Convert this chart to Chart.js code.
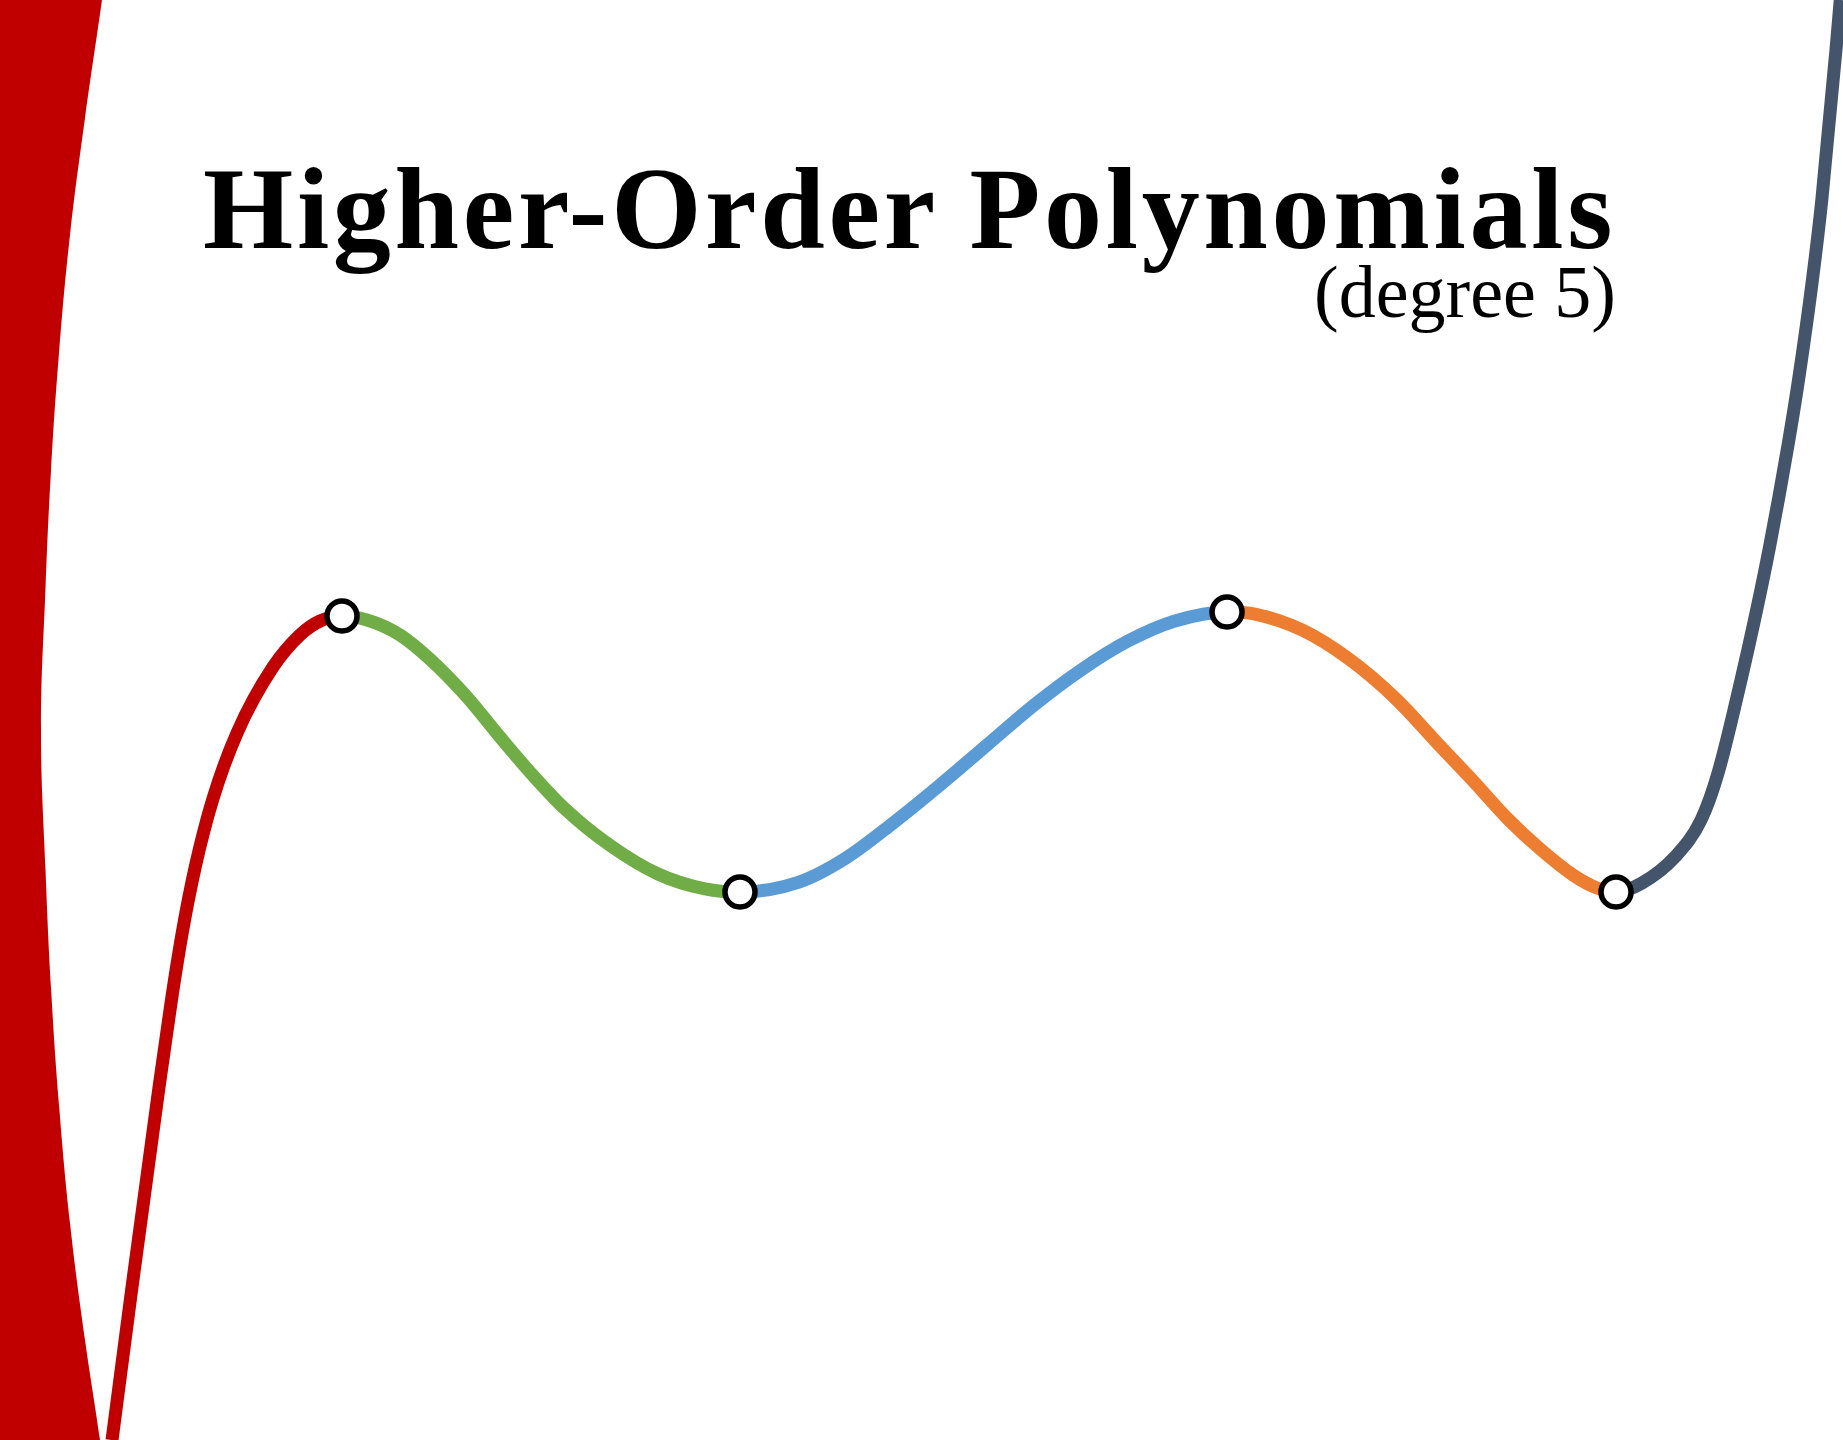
<!DOCTYPE html>
<html>
<head>
<meta charset="utf-8">
<title>Higher-Order Polynomials</title>
<script src="https://cdn.jsdelivr.net/npm/chart.js@4.4.1/dist/chart.umd.min.js"></script>
<style>
  html, body { margin: 0; padding: 0; background: #fff; }
  #wrap { position: relative; width: 1843px; height: 1440px; overflow: hidden; }
  #myChart { position: absolute; left: 0; top: 0; }
  #title {
    position: absolute; left: 203px; top: 151px;
    font: bold 116px "Liberation Serif", "Times New Roman", serif;
    letter-spacing: 3.7px; line-height: 1; white-space: nowrap; color: #000;
  }
  #subtitle {
    position: absolute; right: 227px; top: 255px;
    font: 74px "Liberation Serif", "Times New Roman", serif;
    line-height: 1; white-space: nowrap; color: #000;
  }
</style>
</head>
<body>
<div id="wrap">
  <canvas id="myChart" width="1843" height="1440"></canvas>
  <div id="title">Higher-Order Polynomials</div>
  <div id="subtitle">(degree 5)</div>
</div>
<script>
// curve samples, left to right
const curveX = [
  -1.0987, -1.0734, -1.0392, -1.0235, -1.0099, -0.9934, -0.9715, -0.9405, -0.8949, -0.8608, -0.8354, -0.8076,
  -0.7759, -0.7342, -0.6924, -0.6494, -0.6076, -0.5709, -0.5266, -0.4671, -0.4076, -0.3481, -0.3038,
  -0.2291, -0.1696, -0.1101, -0.0506, 0.0089, 0.0684, 0.1278, 0.1873, 0.2468, 0.3127,
  0.3481, 0.4076, 0.4671, 0.5266, 0.5823, 0.6241, 0.6671, 0.7089, 0.7506, 0.7810, 0.8051,
  0.8380, 0.8797, 0.9127, 0.9342, 0.9633, 0.9823, 0.9994, 1.0224, 1.0361, 1.0537, 1.0656, 1.0835, 1.0889,
];
const curveY = [
  -4.968, -3.863, -2.419, -1.791, -1.307, -0.830, -0.347, 0.137, 0.614, 0.845, 0.946, 0.982,
  0.953, 0.845, 0.650, 0.397, 0.108, -0.137, -0.404, -0.679, -0.881, -0.989, -1.011,
  -0.939, -0.765, -0.513, -0.238, 0.051, 0.339, 0.592, 0.801, 0.946, 1.011,
  0.996, 0.881, 0.671, 0.383, 0.043, -0.209, -0.477, -0.700, -0.888, -0.982, -1.011,
  -0.946, -0.758, -0.491, -0.152, 0.520, 1.004, 1.480, 2.202, 2.686, 3.408, 3.986, 5.069, 5.430,
];

// turning points (marked with circles)
const extremaX = [-0.8076, -0.3038, 0.3127, 0.8051];
const extremaY = [0.982, -1.011, 1.011, -1.011];

// one colour per stretch between turning points
const segmentColors = ["#C00000", "#70AD47", "#5B9BD5", "#ED7D31", "#44546A"];

// red band on the left edge (outline, closed off-canvas)
const bandX = [
  -1.0911, -1.1114, -1.1329, -1.1519, -1.1658, -1.1759, -1.1829, -1.1886,
  -1.1829, -1.1759, -1.1658, -1.1519, -1.1329, -1.1139, -1.0911, -1.3671, -1.3671,
];
const bandY = [
  6.282, 5.430, 4.578, 3.733, 2.881, 2.036, 1.184, 0.166,
  -0.852, -1.704, -2.549, -3.401, -4.245, -4.968, -5.949, -5.949, 6.282,
];

const toPoints = (xs, ys) => xs.map((x, i) => ({ x: x, y: ys[i] }));
const breaks = extremaX.map((x) => curveX.indexOf(x));
const segColor = (ctx) => {
  let k = 0;
  breaks.forEach((b) => { if (ctx.p0DataIndex >= b) k++; });
  return segmentColors[k];
};

const ctx = document.getElementById("myChart").getContext("2d");

new Chart(ctx, {
  type: "line",
  data: {
    datasets: [
      {
        label: "turning points",
        data: toPoints(extremaX, extremaY),
        showLine: false,
        pointRadius: 15,
        pointBackgroundColor: "#ffffff",
        pointBorderColor: "#000000",
        pointBorderWidth: 5.5,
        order: 0,
      },
      {
        label: "p(x)",
        data: toPoints(curveX, curveY),
        borderWidth: 13,
        borderColor: segmentColors[0],
        segment: { borderColor: segColor, borderWidth: 13 },
        cubicInterpolationMode: "monotone",
        pointRadius: 0,
        fill: false,
        order: 1,
      },
      {
        label: "band",
        data: toPoints(bandX, bandY),
        borderWidth: 0,
        borderColor: "#C00000",
        backgroundColor: "#C00000",
        tension: 0.4,
        pointRadius: 0,
        fill: "shape",
        order: 2,
      },
    ],
  },
  options: {
    responsive: false,
    animation: false,
    events: [],
    layout: { padding: 0, autoPadding: false },
    scales: {
      x: { type: "linear", min: -1.2405, max: 1.0924, display: false },
      y: { type: "linear", min: -4.9675, max: 5.4296, display: false },
    },
    plugins: {
      legend: { display: false },
      title: { display: false },
      tooltip: { enabled: false },
    },
  },
});
</script>
</body>
</html>
